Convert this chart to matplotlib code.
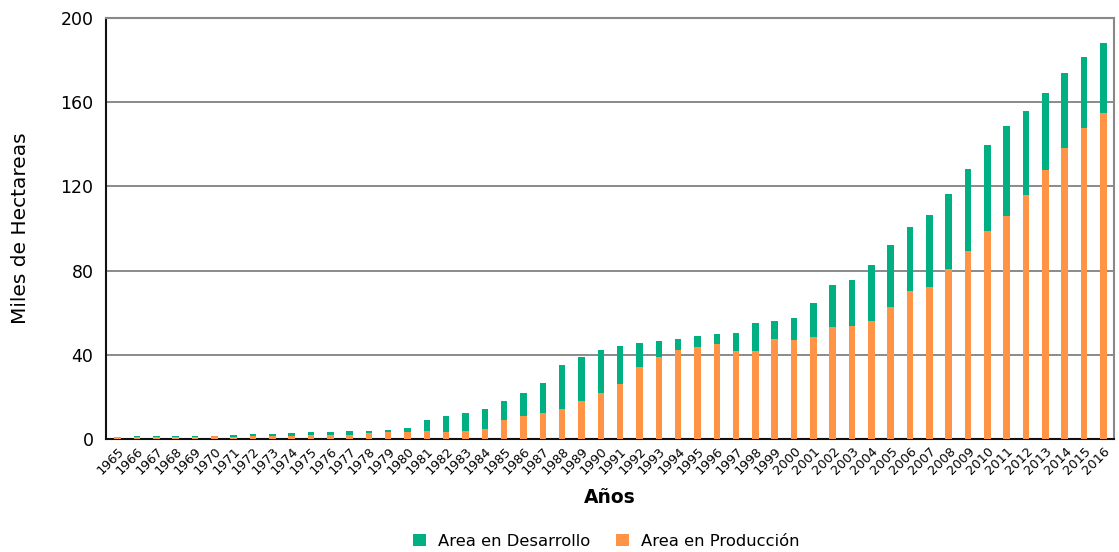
import numpy as np
import matplotlib
matplotlib.use("Agg")
import matplotlib.pyplot as plt

years = list(range(1965, 2017))

# total area (thousand ha)
total = [1.0, 1.5, 1.5, 1.5, 1.5, 1.2, 2.0, 2.6, 2.5, 2.8,
         3.5, 3.3, 3.8, 3.8, 4.4, 5.1, 9.2, 10.9, 12.3, 14.2,
         18.0, 21.9, 26.6, 35.0, 39.1, 42.4, 44.3, 45.8, 46.7, 47.7,
         49.1, 49.9, 50.4, 55.1, 56.1, 57.5, 64.5, 73.0, 75.7, 82.7,
         92.2, 100.7, 106.3, 116.2, 128.4, 139.7, 148.5, 155.7, 164.5, 173.9,
         181.3, 188.0]

produccion = [1.0, 0.8, 0.8, 0.8, 0.8, 1.2, 1.0, 1.2, 1.2, 1.2,
              1.8, 1.8, 1.9, 2.7, 3.2, 3.2, 3.6, 3.5, 4.0, 4.7,
              9.2, 10.9, 12.3, 14.2, 18.0, 21.9, 26.1, 34.4, 39.1, 42.4,
              43.9, 45.3, 42.0, 42.0, 47.6, 47.2, 48.5, 53.2, 53.7, 56.1,
              62.8, 70.2, 72.4, 80.6, 89.5, 98.8, 105.9, 115.8, 127.9, 138.4,
              147.6, 154.7]

desarrollo = [t - p for t, p in zip(total, produccion)]

verde = "#00b082"
naranja = "#ff9446"

fig = plt.figure(figsize=(11.19, 5.52), dpi=100)
ax = fig.add_axes([106 / 1119, 1 - 439 / 552, (1114 - 106) / 1119, (439 - 18) / 552])

x = np.arange(len(years))
ax.bar(x, produccion, width=0.34, color=naranja, zorder=3, label="Area en Producción")
ax.bar(x, desarrollo, width=0.34, bottom=produccion, color=verde, zorder=3,
       label="Area en Desarrollo")

ax.set_ylim(0, 200)
ax.set_xlim(-0.6, len(years) - 0.45)
ax.set_yticks([0, 40, 80, 120, 160, 200])
ax.yaxis.grid(True, color="#777777", linewidth=1.2, zorder=0)
ax.tick_params(axis="y", length=0, labelsize=12.5, pad=9)
ax.tick_params(axis="x", length=0, labelsize=9.3, pad=4)
ax.set_xticks(x)
ax.set_xticklabels([str(y) for y in years], rotation=45, ha="right",
                   rotation_mode="anchor")

for s in ["top", "right"]:
    ax.spines[s].set_color("#888888")
    ax.spines[s].set_linewidth(1.5)
for s in ["left", "bottom"]:
    ax.spines[s].set_color("#111111")
    ax.spines[s].set_linewidth(1.5)

ax.set_ylabel("Miles de Hectareas", fontsize=14.5, labelpad=22)
ax.set_xlabel("Años", fontsize=13.5, fontweight="bold", labelpad=8)

h, l = ax.get_legend_handles_labels()
fig.legend(h[::-1], l[::-1], loc="center", bbox_to_anchor=(0.5416, 1 - 541 / 552),
           ncol=2, frameon=False, fontsize=11.8, handlelength=0.8,
           handleheight=0.8, columnspacing=1.6, handletextpad=0.7)

fig.savefig("out.png", dpi=100)
